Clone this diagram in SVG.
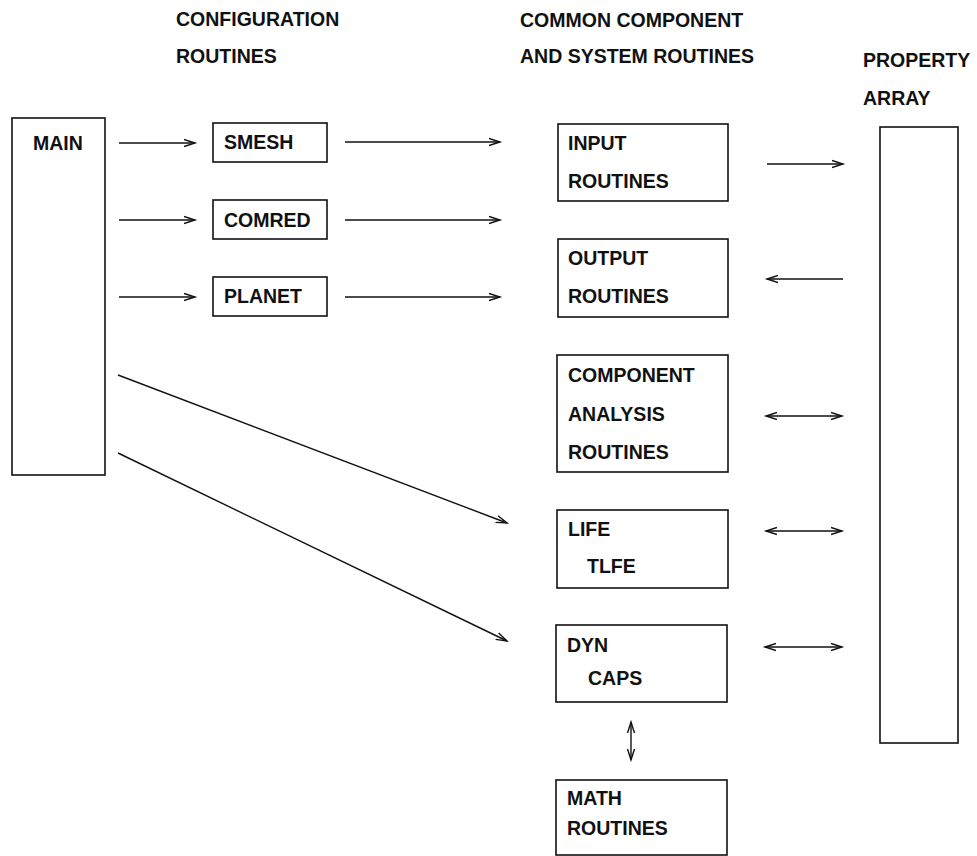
<svg xmlns="http://www.w3.org/2000/svg" width="977" height="856" viewBox="0 0 977 856">
<style>
  .box { fill: #fff; stroke: #111; stroke-width: 1.6; }
  .lbl { font-family: "Liberation Sans", Arial, sans-serif; font-size: 19.5px; font-weight: bold; fill: #111; }
  .conn { stroke: #111; stroke-width: 1.4; fill: none; }
  .one { marker-end: url(#ah); }
  .two { marker-start: url(#ah); marker-end: url(#ah); }
</style>
<defs>
  <marker id="ah" markerUnits="userSpaceOnUse" markerWidth="14" markerHeight="10" refX="11" refY="4" orient="auto-start-reverse" viewBox="0 0 14 8">
    <path d="M0,0.5 L11,4 L0,7.5" fill="none" stroke="#111" stroke-width="1.4"/>
  </marker>
</defs>
<rect width="977" height="856" fill="#fff"/>

<g id="headers">
  <text class="lbl" x="176" y="26">CONFIGURATION</text>
  <text class="lbl" x="176" y="63">ROUTINES</text>
  <text class="lbl" x="520" y="27">COMMON COMPONENT</text>
  <text class="lbl" x="520" y="63">AND SYSTEM ROUTINES</text>
  <text class="lbl" x="863" y="67">PROPERTY</text>
  <text class="lbl" x="863" y="105">ARRAY</text>
</g>

<g id="main">
  <rect class="box" x="12" y="118" width="93" height="357"/>
  <text class="lbl" x="33" y="150">MAIN</text>
</g>
<g id="smesh">
  <rect class="box" x="213" y="123" width="114" height="39"/>
  <text class="lbl" x="224" y="149">SMESH</text>
</g>
<g id="comred">
  <rect class="box" x="213" y="200" width="114" height="39"/>
  <text class="lbl" x="224" y="227">COMRED</text>
</g>
<g id="planet">
  <rect class="box" x="213" y="277" width="114" height="39"/>
  <text class="lbl" x="224" y="303">PLANET</text>
</g>

<g id="input">
  <rect class="box" x="558" y="124" width="170" height="77"/>
  <text class="lbl" x="568" y="150">INPUT</text>
  <text class="lbl" x="568" y="188">ROUTINES</text>
</g>
<g id="output">
  <rect class="box" x="558" y="239" width="170" height="78"/>
  <text class="lbl" x="568" y="265">OUTPUT</text>
  <text class="lbl" x="568" y="303">ROUTINES</text>
</g>
<g id="component">
  <rect class="box" x="557" y="355" width="171" height="117"/>
  <text class="lbl" x="568" y="382">COMPONENT</text>
  <text class="lbl" x="568" y="421">ANALYSIS</text>
  <text class="lbl" x="568" y="459">ROUTINES</text>
</g>
<g id="life">
  <rect class="box" x="557" y="510" width="171" height="78"/>
  <text class="lbl" x="568" y="536">LIFE</text>
  <text class="lbl" x="587" y="573">TLFE</text>
</g>
<g id="dyn">
  <rect class="box" x="556" y="625" width="171" height="77"/>
  <text class="lbl" x="567" y="652">DYN</text>
  <text class="lbl" x="588" y="685">CAPS</text>
</g>
<g id="math">
  <rect class="box" x="556" y="780" width="171" height="75"/>
  <text class="lbl" x="567" y="805">MATH</text>
  <text class="lbl" x="567" y="835">ROUTINES</text>
</g>
<g id="property">
  <rect class="box" x="880" y="127" width="78" height="616"/>
</g>

<g id="connectors">
  <line class="conn one" x1="119" y1="143" x2="195" y2="143"/>
  <line class="conn one" x1="119" y1="220" x2="195" y2="220"/>
  <line class="conn one" x1="119" y1="297" x2="195" y2="297"/>
  <line class="conn one" x1="345" y1="142" x2="500" y2="142"/>
  <line class="conn one" x1="345" y1="220" x2="500" y2="220"/>
  <line class="conn one" x1="345" y1="297" x2="500" y2="297"/>
  <line class="conn one" x1="118" y1="375" x2="507" y2="523"/>
  <line class="conn one" x1="118" y1="453" x2="507" y2="641"/>
  <line class="conn one" x1="767" y1="164" x2="843" y2="164"/>
  <line class="conn one" x1="843" y1="279" x2="767" y2="279"/>
  <line class="conn two" x1="766" y1="416" x2="842" y2="416"/>
  <line class="conn two" x1="766" y1="531" x2="842" y2="531"/>
  <line class="conn two" x1="765" y1="647" x2="842" y2="647"/>
  <line class="conn two" x1="631" y1="722" x2="631" y2="760"/>
</g>
</svg>
